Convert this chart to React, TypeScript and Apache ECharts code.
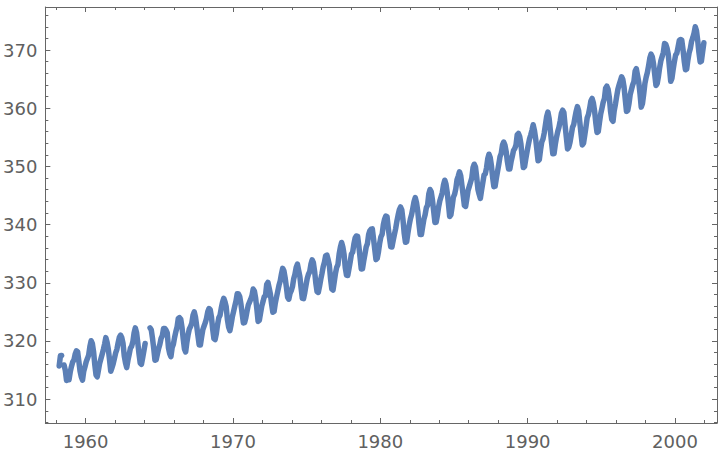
import React, { useEffect, useRef } from "react";
import * as echarts from "echarts";

// Monthly mean CO2 (ppm) at Mauna Loa, starting March 1958; null = missing month
const startYear = 1958;
const startMonth = 3;

const co2_1958_1959 = [
  315.71, 317.45, 317.5, null, 315.86, 314.93, 313.2, null, 313.33, 314.67,
  315.62, 316.38, 316.71, 317.72, 318.29, 318.15, 316.54, 314.8, 313.84, 313.26, 314.8, 315.58,
];
const co2_1960s = [
  316.43, 316.97, 317.58, 319.02, 320.03, 319.59, 318.18, 315.91, 314.16, 313.83, 315.0, 316.19,
  316.93, 317.7, 318.54, 319.48, 320.58, 319.77, 318.57, 316.79, 314.8, 315.38, 316.1, 317.01,
  317.94, 318.56, 319.68, 320.63, 321.01, 320.55, 319.58, 317.4, 316.26, 315.42, 316.69, 317.69,
  318.74, 319.08, 319.86, 321.39, 322.25, 321.47, 319.74, 317.77, 316.21, 315.99, 317.12, 318.31,
  319.57, null, null, null, 322.26, 321.89, 320.44, 318.7, 316.7, 316.79, 317.79, 318.71,
  319.44, 320.44, 320.89, 322.13, 322.16, 321.87, 321.39, 318.8, 317.81, 317.3, 318.87, 319.42,
  320.62, 321.59, 322.39, 323.87, 324.01, 323.75, 322.39, 320.37, 318.64, 318.1, 319.79, 321.08,
  322.07, 322.5, 323.04, 324.42, 325.0, 324.09, 322.55, 320.92, 319.31, 319.31, 320.72, 321.96,
  322.57, 323.15, 323.89, 325.02, 325.57, 325.36, 324.14, 322.03, 320.41, 320.25, 321.31, 322.84,
  324.0, 324.42, 325.64, 326.66, 327.34, 326.76, 325.88, 323.67, 322.38, 321.78, 322.85, 324.12,
];
const co2_1970s = [
  325.03, 325.99, 326.87, 328.13, 328.07, 327.66, 326.35, 324.69, 323.1, 323.16, 323.98, 325.13,
  326.17, 326.68, 327.18, 327.78, 328.92, 328.57, 327.34, 325.46, 323.36, 323.57, 324.8, 326.01,
  326.77, 327.63, 327.75, 329.72, 330.07, 329.09, 328.05, 326.32, 324.93, 325.06, 326.5, 327.55,
  328.54, 329.56, 330.3, 331.5, 332.48, 332.07, 330.87, 329.31, 327.51, 327.18, 328.16, 328.64,
  329.35, 330.71, 331.48, 332.65, 333.2, 332.16, 331.07, 329.12, 327.32, 327.28, 328.3, 329.58,
  330.73, 331.46, 331.9, 333.17, 333.94, 333.45, 331.97, 329.95, 328.5, 328.34, 329.37, 330.58,
  331.59, 332.75, 333.52, 334.64, 334.77, 334.0, 333.06, 330.68, 328.95, 328.75, 330.15, 331.62,
  332.66, 333.13, 334.95, 336.13, 336.93, 336.17, 334.88, 332.56, 331.29, 331.27, 332.41, 333.6,
  334.95, 335.25, 336.66, 337.69, 338.03, 338.01, 336.41, 334.41, 332.37, 332.41, 333.75, 334.9,
  336.14, 336.69, 338.27, 338.96, 339.21, 339.26, 337.54, 335.75, 333.98, 334.19, 335.31, 336.81,
];
const co2_1980s = [
  337.9, 338.34, 340.01, 340.93, 341.48, 341.33, 339.4, 337.7, 336.19, 336.15, 337.27, 338.32,
  339.29, 340.55, 341.61, 342.53, 343.03, 342.54, 340.78, 338.44, 336.95, 337.08, 338.58, 339.88,
  340.96, 341.73, 342.81, 343.97, 344.63, 343.79, 342.32, 340.09, 338.28, 338.29, 339.6, 340.9,
  341.68, 342.9, 343.33, 345.25, 346.03, 345.63, 344.19, 342.27, 340.35, 340.38, 341.59, 343.05,
  344.1, 344.79, 345.52, 346.84, 347.63, 346.97, 345.53, 343.55, 341.4, 341.67, 343.1, 344.7,
  345.21, 346.16, 347.74, 348.34, 349.06, 348.38, 346.72, 345.02, 343.27, 343.13, 344.49, 345.88,
  346.56, 347.28, 348.01, 349.77, 350.38, 349.93, 348.16, 346.08, 345.22, 344.51, 345.93, 347.22,
  348.52, 348.73, 349.73, 351.31, 352.09, 351.53, 350.11, 348.08, 346.52, 346.59, 347.96, 349.16,
  350.38, 351.68, 352.24, 353.66, 354.18, 353.68, 352.58, 350.83, 349.56, 349.56, 350.81, 351.71,
  352.75, 353.07, 353.68, 355.42, 355.67, 355.13, 353.9, 351.67, 349.8, 349.99, 351.3, 352.52,
];
const co2_1990s = [
  353.66, 354.7, 355.39, 356.2, 357.16, 356.22, 354.82, 352.91, 350.96, 351.18, 352.83, 354.21,
  354.72, 355.75, 357.16, 358.6, 359.34, 358.24, 356.17, 354.03, 352.16, 352.21, 353.75, 354.99,
  355.98, 356.72, 357.81, 359.15, 359.66, 359.25, 357.02, 355.0, 353.01, 353.31, 354.16, 355.4,
  356.7, 357.17, 358.38, 359.46, 360.28, 359.6, 357.57, 355.52, 353.69, 353.99, 355.34, 356.8,
  358.37, 358.91, 359.97, 361.26, 361.68, 360.95, 359.55, 357.49, 355.84, 355.99, 357.58, 359.04,
  359.97, 361.0, 361.64, 363.45, 363.79, 363.26, 361.9, 359.46, 358.06, 357.75, 359.56, 360.7,
  362.05, 363.25, 364.03, 364.72, 365.41, 364.97, 363.65, 361.49, 359.46, 359.6, 360.76, 362.33,
  363.18, 363.99, 364.56, 366.36, 366.8, 365.63, 364.47, 362.5, 360.19, 360.78, 362.43, 364.28,
  365.33, 366.15, 367.31, 368.61, 369.29, 368.87, 367.64, 365.77, 363.9, 364.23, 365.46, 366.97,
  368.15, 368.87, 369.59, 371.14, 371.0, 370.35, 369.27, 366.94, 364.63, 365.12, 366.67, 368.01,
];
const co2_2000s = [
  369.14, 369.46, 370.52, 371.66, 371.82, 371.7, 370.12, 368.12, 366.62, 366.73, 368.29, 369.53,
  370.28, 371.5, 372.12, 372.87, 374.02, 373.3, 371.62, 369.55, 367.96, 368.09, 369.68, 371.24,
];

const xMajorTicks = [1960, 1970, 1980, 1990, 2000];
const xMinorTicks = [1958, 1962, 1964, 1966, 1968, 1972, 1974, 1976, 1978, 1982, 1984, 1986, 1988, 1992, 1994, 1996, 1998, 2002];
const yMajorTicks = [310, 320, 330, 340, 350, 360, 370];
const yMinorTicks = [306, 308, 312, 314, 316, 318, 322, 324, 326, 328, 332, 334, 336, 338, 342, 344, 346, 348, 352, 354, 356, 358, 362, 364, 366, 368, 372, 374, 376];

const X_MIN = 1957.27;
const X_MAX = 2002.85;
const Y_MIN = 305.9;
const Y_MAX = 377.4;

const AXIS_COLOR = "#666666";
const LABEL_COLOR = "#606060";

export default function App() {
  const ref = useRef<HTMLDivElement>(null);

  useEffect(() => {
    if (!ref.current) return;
    const chart = echarts.init(ref.current, undefined, { renderer: "svg" });

    const all = [...co2_1958_1959, ...co2_1960s, ...co2_1970s, ...co2_1980s, ...co2_1990s, ...co2_2000s];
    const data = all.map((v, i) => {
      const m = startMonth - 1 + i;
      const x = startYear + (m + 0.5) / 12;
      return [x, v == null ? "-" : v];
    });

    const mkX = (position: "top" | "bottom", ticks: number[], len: number, main: boolean, labels: boolean) => ({
      type: "value",
      position,
      min: X_MIN,
      max: X_MAX,
      axisLine: { show: main, onZero: false, lineStyle: { color: AXIS_COLOR, width: 1 } },
      axisTick: { show: true, inside: true, length: len, customValues: ticks, lineStyle: { color: AXIS_COLOR, width: 1 } },
      axisLabel: labels
        ? { show: true, customValues: xMajorTicks, color: LABEL_COLOR, fontSize: 18, fontFamily: "DejaVu Sans", margin: 9, formatter: (v: number) => String(Math.round(v)) }
        : { show: false },
      splitLine: { show: false },
    });
    const mkY = (position: "left" | "right", ticks: number[], len: number, main: boolean, labels: boolean) => ({
      type: "value",
      position,
      min: Y_MIN,
      max: Y_MAX,
      axisLine: { show: main, onZero: false, lineStyle: { color: AXIS_COLOR, width: 1 } },
      axisTick: { show: true, inside: true, length: len, customValues: ticks, lineStyle: { color: AXIS_COLOR, width: 1 } },
      axisLabel: labels
        ? { show: true, customValues: yMajorTicks, color: LABEL_COLOR, fontSize: 18, fontFamily: "DejaVu Sans", margin: 8, formatter: (v: number) => String(Math.round(v)) }
        : { show: false },
      splitLine: { show: false },
    });

    chart.setOption({
      animation: false,
      backgroundColor: "#ffffff",
      grid: { left: 44, right: 3, top: 7, bottom: 31, containLabel: false },
      xAxis: [
        mkX("bottom", xMajorTicks, 5, true, true),
        mkX("bottom", xMinorTicks, 3, false, false),
        mkX("top", xMajorTicks, 5, true, false),
        mkX("top", xMinorTicks, 3, false, false),
      ],
      yAxis: [
        mkY("left", yMajorTicks, 5, true, true),
        mkY("left", yMinorTicks, 3, false, false),
        mkY("right", yMajorTicks, 5, true, false),
        mkY("right", yMinorTicks, 3, false, false),
      ],
      series: [
        {
          type: "line",
          xAxisIndex: 0,
          yAxisIndex: 0,
          data,
          showSymbol: false,
          connectNulls: false,
          lineStyle: { color: "#5b7fb6", width: 5.5, join: "round", cap: "round" },
          itemStyle: { color: "#5b7fb6" },
        },
      ],
    });

    return () => chart.dispose();
  }, []);

  return <div ref={ref} style={{ position: "fixed", left: 0, top: 0, width: 720, height: 454 }} />;
}
